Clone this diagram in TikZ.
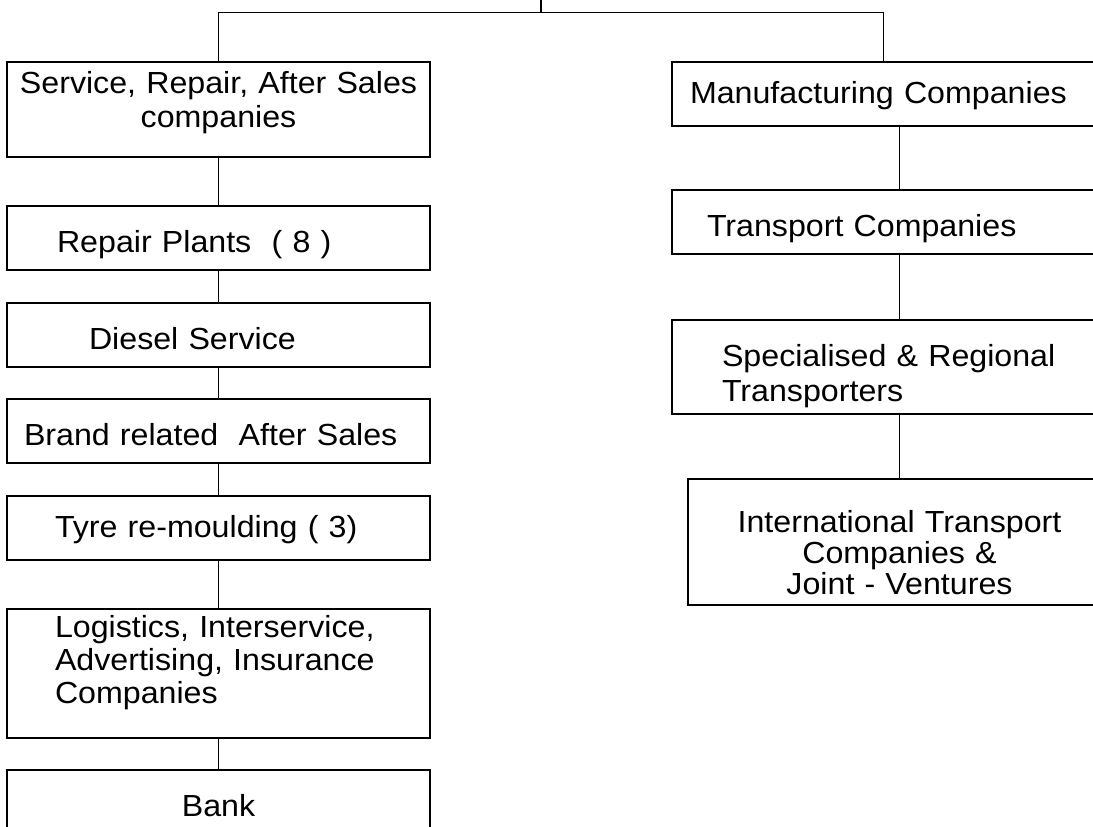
\documentclass[tikz,border=0pt]{standalone}
\usepackage{fontspec}
\setmainfont{Liberation Sans}[FakeStretch=1.055]
\usetikzlibrary{positioning}

\begin{document}
\begin{tikzpicture}[x=1pt, y=-1pt,
  box/.style={draw, line width=1.8pt, minimum height=64pt, inner ysep=0pt,
    outer sep=0pt, align=left, font=\fontsize{30.5}{31}\selectfont,
    text height=28pt, text depth=0pt},
  indent/.style={inner xsep=#1, text width=423pt-2*#1},
  link/.style={line width=1.8pt},
]
  \useasboundingbox (0,0) rectangle (1093,827);
  \clip (0,0) rectangle (1093,827);

  % --- service and after sales branch, left -------------------------
  \node[box, indent=11.5pt, align=center, minimum height=95pt,
    text height=22pt, text depth=55pt, anchor=north west] (svc) at (7,62)
    {Service, Repair, After Sales\\[3pt]companies};
  \node[box, indent=50pt, below=49pt of svc] (rep) {Repair Plants\ \ ( 8 )};
  \node[box, indent=82pt, below=33pt of rep] (dsl) {Diesel Service};
  \node[box, indent=17pt, below=32pt of dsl] (brd) {Brand related\ \ After Sales};
  \node[box, indent=48pt, below=33pt of brd, text height=24pt, text depth=5pt] (tyr)
    {Tyre re-moulding ( 3)};
  \node[box, indent=48pt, below=49pt of tyr, minimum height=129pt,
    text height=22pt, text depth=95pt] (log)
    {Logistics, Interservice,\\[2pt]Advertising, Insurance\\[2pt]Companies};
  \node[box, indent=11.5pt, align=center, below=32pt of log] (bnk) {Bank};

  % --- manufacturing and transport branch, right --------------------
  \node[box, indent=18pt, text height=24pt, text depth=6pt, anchor=north west] (mfg)
    at (672,62) {Manufacturing Companies};
  \node[box, indent=35pt, below=64pt of mfg] (trn) {Transport Companies};
  \node[box, inner xsep=50pt, text width=340pt, minimum height=94pt,
    text height=22pt, text depth=24pt, below=66pt of trn.south west, anchor=north west] (spc)
    {Specialised \& Regional\\[4pt]Transporters};
  \node[box, indent=11.5pt, align=center, minimum height=126pt, text height=22pt,
    text depth=42pt, below=65pt of spc.south west, anchor=north west, xshift=16pt] (itc)
    {International Transport\\Companies \&\\Joint - Ventures};

  % --- connectors ----------------------------------------------------
  \coordinate (root) at (541,-2);
  \coordinate (bus) at (541,12.5);
  \draw[link] (root) -- (bus);
  \draw[link] (svc.north) |- (bus) -| (mfg.north);
  \foreach \a/\b in {svc/rep, rep/dsl, dsl/brd, brd/tyr, tyr/log, log/bnk}
    \draw[link] (\a) -- (\b);
  \foreach \a/\b in {mfg/trn, trn/spc, spc/itc}
    \draw[link] (\a.south -| itc.north) -- (\b.north -| itc.north);
\end{tikzpicture}
\end{document}
